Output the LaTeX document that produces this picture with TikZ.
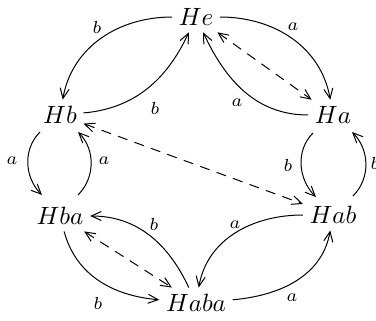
\documentclass[tikz,border=0pt]{standalone}
\usetikzlibrary{arrows.meta,calc}
\begin{document}
\begin{tikzpicture}[x=0.4pt,y=-0.4pt,
  grp/.style={inner sep=2.5pt},
  lab/.style={inner sep=0pt,font=\scriptsize},
  tip/.tip={Straight Barb[length=4pt,width=3.6pt]},
  arr/.style={-tip,line width=0.4pt},
  darr/.style={tip-tip,dash pattern=on 4pt off 3pt,line width=0.4pt}]
\useasboundingbox (0,0) rectangle (376,321);
\node[grp] (He) at (196,17) {$He$};
\node[grp] (Hb) at (60,115) {$Hb$};
\node[grp] (Ha) at (333,115) {$Ha$};
\node[grp] (Hba) at (60,216) {$Hba$};
\node[grp] (Hab) at (333,215) {$Hab$};
\node[grp] (Haba) at (196,303) {$Haba$};
% top left
\draw[arr] (He) to[out=180,in=80] (Hb);
\draw[arr] (Hb) to[out=5,in=-115] (He);
% top right
\draw[arr] (He) to[out=0,in=100] (Ha);
\draw[arr] (Ha) to[out=180,in=-65] (He);
\draw[darr] (He) -- (Ha);
% left
\draw[arr] ($(Hb)+(-20,17)$) to[out=-135,in=135] ($(Hba)+(-18,-21)$);
\draw[arr] ($(Hba)+(18,-21)$) to[out=45,in=-45] ($(Hb)+(18,17)$);
% right
\draw[arr] ($(Ha)+(-20,18)$) to[out=-135,in=135] ($(Hab)+(-17,-18)$);
\draw[arr] ($(Hab)+(20,-19)$) to[out=45,in=-45] ($(Ha)+(19,17)$);
\draw[darr] (Hb) -- (Hab);
% bottom right
\draw[arr] (Hab) to[out=180,in=80] (Haba);
\draw[arr] (Haba) to[out=5,in=-100] (Hab);
% bottom left
\draw[arr] (Haba) to[out=115,in=0] (Hba);
\draw[arr] (Hba) to[out=-75,in=175] (Haba);
\draw[darr] (Hba) -- (Haba);
% labels
\node[lab] (l1) at (97,27) {$b$};
\node[lab] (l2) at (155,108) {$b$};
\node[lab] (l3) at (293,27) {$a$};
\node[lab] (l4) at (237,103) {$a$};
\node[lab] (l5) at (12,161) {$a$};
\node[lab] (l6) at (104,161) {$a$};
\node[lab] (l7) at (288,165) {$b$};
\node[lab] (l8) at (375,163) {$b$};
\node[lab] (l9) at (235,225) {$a$};
\node[lab] (l10) at (292,298) {$a$};
\node[lab] (l11) at (154,224) {$b$};
\node[lab] (l12) at (98,303) {$b$};
\end{tikzpicture}
\end{document}
